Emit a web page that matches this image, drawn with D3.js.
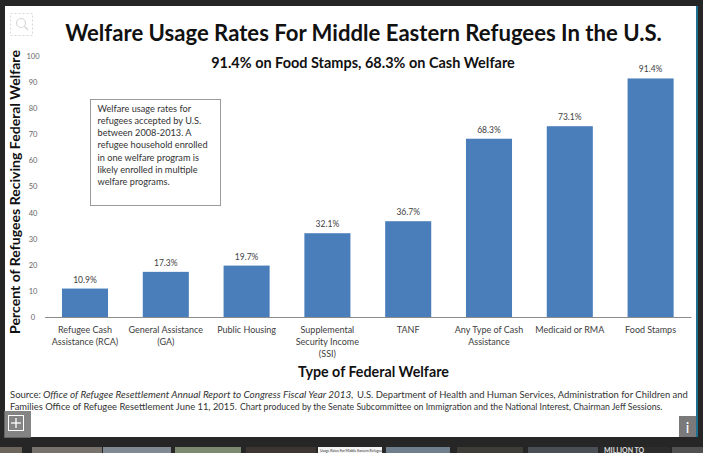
<!DOCTYPE html>
<html><head><meta charset="utf-8">
<script src="https://cdn.jsdelivr.net/npm/d3@7/dist/d3.min.js"></script>
<style>
html,body{margin:0;padding:0;background:#262626;overflow:hidden;}
svg{display:block;}
text{font-family:Lato,"Open Sans",sans-serif;}
</style></head><body>
<svg id="c" width="703" height="453"></svg>
<script>
const categories = [
  ["Refugee Cash","Assistance (RCA)"],
  ["General Assistance","(GA)"],
  ["Public Housing"],
  ["Supplemental","Security Income","(SSI)"],
  ["TANF"],
  ["Any Type of Cash","Assistance"],
  ["Medicaid or RMA"],
  ["Food Stamps"]
];
const values = [10.9, 17.3, 19.7, 32.1, 36.7, 68.3, 73.1, 91.4];
const yTicks = [0,10,20,30,40,50,60,70,80,90,100];
const title = "Welfare Usage Rates For Middle Eastern Refugees In the U.S.";
const subtitle = "91.4% on Food Stamps, 68.3% on Cash Welfare";
const note = ["Welfare usage rates for","refugees accepted by U.S.","between 2008-2013.  A","refugee household enrolled","in one welfare program  is","likely enrolled in multiple","welfare programs."];
const yTitle = "Percent of Refugees Reciving Federal Welfare";
const xTitle = "Type of Federal Welfare";

const svg = d3.select("#c");

function fit(sel, w){
  const n = sel.node();
  const fs = parseFloat(sel.attr("font-size"));
  const L = n.getComputedTextLength();
  if (L>0) sel.attr("font-size", fs*w/L);
  return sel;
}

// frame
svg.append("rect").attr("x",0).attr("y",0).attr("width",703).attr("height",453).attr("fill","#262626");
// thumbnails strip
const thumbs = [[0,22,"#6b655c"],[32,70,"#77736c"],[103,68,"#7f8a93"],[175,66,"#7c8a70"],[246,70,"#3c3532"],[318,64,"#f4f4f4"],[386,64,"#6f7f8e"],[457,66,"#3e3d38"],[528,70,"#4a4f56"],[600,70,"#2c2c2c"],[672,31,"#505050"]];
svg.selectAll("rect.th").data(thumbs).join("rect").attr("class","th")
  .attr("x",d=>d[0]).attr("y",447).attr("width",d=>d[1]).attr("height",6).attr("fill",d=>d[2]);
svg.append("text").attr("x",604).attr("y",452.5).attr("font-size",7).attr("font-weight","bold").attr("fill","#ddd").text("MILLION TO");
svg.append("text").attr("x",320).attr("y",451.5).attr("font-size",3.5).attr("fill","#333").text("Usage Rates For Middle Eastern Refugees");
// white panel
svg.append("rect").attr("x",5).attr("y",6).attr("width",691).attr("height",431).attr("fill","#fff");
svg.append("rect").attr("x",696).attr("y",6).attr("width",2).attr("height",431).attr("fill","#1f6f93");

const x0 = 44.6, x1 = 691, y0 = 317, y1 = 56;
const x = d3.scaleBand().domain(d3.range(categories.length)).range([x0,x1]).paddingInner(0.43).paddingOuter(0.215);
const y = d3.scaleLinear().domain([0,100]).range([y0,y1]);

// y tick labels
const yAxis = d3.axisLeft(y).tickValues(yTicks).tickSize(0).tickPadding(0);
const ga = svg.append("g").attr("transform","translate(37,0)").call(yAxis);
ga.select(".domain").remove();
ga.selectAll("text").attr("font-family","Lato,sans-serif").attr("font-size",7.5).attr("fill","#666").attr("x",-4).attr("text-anchor","middle");

// bars
svg.selectAll("rect.bar").data(values).join("rect").attr("class","bar")
  .attr("x",(d,i)=>x(i)).attr("width",x.bandwidth())
  .attr("y",d=>y(d)).attr("height",d=>y(0)-y(d)).attr("fill","#4a7ebb");

// x axis line
const xAxis = d3.axisBottom(x).tickSize(0).tickFormat("");
const gx = svg.append("g").attr("transform",`translate(0,${y0})`).call(xAxis);
gx.select(".domain").attr("stroke","#8c8c8c").attr("stroke-width",1);

// value labels
svg.selectAll("text.val").data(values).join("text").attr("class","val")
  .attr("x",(d,i)=>x(i)+x.bandwidth()/2).attr("y",d=>y(d)-6)
  .attr("text-anchor","middle").attr("font-size",8.5).attr("fill","#404040")
  .text(d=>d.toFixed(1)+"%");

// category labels
categories.forEach((lines,i)=>{
  lines.forEach((t,j)=>{
    svg.append("text").attr("x",x(i)+x.bandwidth()/2).attr("y",333+j*12.2)
      .attr("text-anchor","middle").attr("font-size",9).attr("fill","#404040").text(t);
  });
});

// titles
fit(svg.append("text").attr("x",363.5).attr("y",41).attr("text-anchor","middle").attr("font-size",22).attr("font-weight","bold").attr("fill","#111").text(title),597);
fit(svg.append("text").attr("x",363).attr("y",68).attr("text-anchor","middle").attr("font-size",14).attr("font-weight","bold").attr("fill","#111").text(subtitle),304);
fit(svg.append("text").attr("x",373.5).attr("y",377).attr("text-anchor","middle").attr("font-size",14).attr("font-weight","bold").attr("fill","#111").text(xTitle),151);
fit(svg.append("text").attr("transform","translate(20,192) rotate(-90)").attr("text-anchor","middle").attr("font-size",14).attr("font-weight","bold").attr("fill","#111").text(yTitle),284);

// note box
svg.append("rect").attr("x",90.5).attr("y",99.5).attr("width",130).attr("height",106).attr("fill","#fff").attr("stroke","#9a9a9a").attr("stroke-width",1);
note.forEach((t,i)=>{
  svg.append("text").attr("x",97.5).attr("y",111.5+i*12.3).attr("font-size",9.2).attr("fill","#333").text(t);
});

// source
const src = [
  {t:"Source: ",x:10,w:31,y:398,it:false},
  {t:"Office of Refugee Resettlement Annual Report to Congress Fiscal Year 2013,",x:43,w:311,y:398,it:true},
  {t:"U.S. Department  of Health and Human Services, Administration for Children and",x:357,w:331,y:398,it:false},
  {t:"Families Office of Refugee Resettlement June 11, 2015.",x:10,w:227,y:410,it:false},
  {t:"Chart produced by the Senate Subcommittee on Immigration and the National Interest, Chairman Jeff Sessions.",x:240,w:423,y:410,it:false,sm:true}
];
src.forEach(s=>{
  const el = svg.append("text").attr("x",s.x).attr("y",s.y).attr("font-size",s.sm?8:9).attr("fill","#333")
    .attr("font-style",s.it?"italic":"normal").text(s.t);
  fit(el,s.w);
});

// icons
const mg = svg.append("g");
mg.append("rect").attr("x",10.5).attr("y",13.5).attr("width",22).attr("height",22).attr("fill","none").attr("stroke","#d8d8d8").attr("stroke-dasharray","2,2");
mg.append("circle").attr("cx",21).attr("cy",23).attr("r",4.5).attr("fill","none").attr("stroke","#d8d8d8").attr("stroke-width",1.2);
mg.append("line").attr("x1",24.5).attr("y1",26.5).attr("x2",28).attr("y2",30).attr("stroke","#d8d8d8").attr("stroke-width",1.5);

svg.append("rect").attr("x",4).attr("y",411).attr("width",27).attr("height",27).attr("fill","#6e6e6e").attr("opacity",0.85);
svg.append("rect").attr("x",8.5).attr("y",415.5).attr("width",15).attr("height",15).attr("fill","none").attr("stroke","#fff").attr("stroke-width",1);
svg.append("line").attr("x1",16).attr("y1",418).attr("x2",16).attr("y2",428).attr("stroke","#fff").attr("stroke-width",1.3);
svg.append("line").attr("x1",11).attr("y1",423).attr("x2",21).attr("y2",423).attr("stroke","#fff").attr("stroke-width",1.3);

svg.append("rect").attr("x",679).attr("y",416).attr("width",17).attr("height",21).attr("fill","#7a7a7a");
svg.append("text").attr("x",687.5).attr("y",433).attr("text-anchor","middle").attr("font-size",15).attr("font-family","DejaVu Sans").attr("fill","#fff").text("i");
</script>
</body></html>
